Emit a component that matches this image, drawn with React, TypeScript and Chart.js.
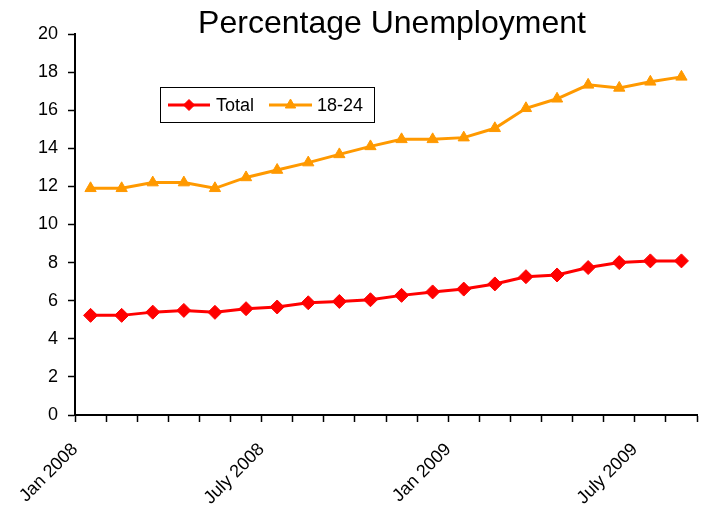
import React, { useEffect, useRef } from "react";
import { Chart, registerables } from "chart.js";

Chart.register(...registerables);

const months: string[] = [
  "Jan 2008", "Feb 2008", "Mar 2008", "Apr 2008", "May 2008", "Jun 2008",
  "July 2008", "Aug 2008", "Sep 2008", "Oct 2008", "Nov 2008", "Dec 2008",
  "Jan 2009", "Feb 2009", "Mar 2009", "Apr 2009", "May 2009", "Jun 2009",
  "July 2009", "Aug 2009",
];
const totalValues: number[] = [
  5.23, 5.23, 5.4, 5.49, 5.39, 5.58, 5.67, 5.89, 5.96, 6.05,
  6.28, 6.46, 6.61, 6.88, 7.26, 7.35, 7.74, 8.0, 8.09, 8.09,
];
const youthValues: number[] = [
  11.9, 11.9, 12.2, 12.2, 11.9, 12.47, 12.86, 13.25, 13.68, 14.1,
  14.47, 14.47, 14.56, 15.05, 16.1, 16.6, 17.33, 17.17, 17.49, 17.75,
];
const labelledTicks: number[] = [0, 6, 12, 18];
const yTicks: number[] = [0, 2, 4, 6, 8, 10, 12, 14, 16, 18, 20];

const FONT = "'Liberation Sans', Arial, sans-serif";
const RED = "#FF0000";
const ORANGE = "#FF9900";

const overlayPlugin = {
  id: "overlay",
  afterDraw(chart: any) {
    const ctx = chart.ctx as CanvasRenderingContext2D;
    ctx.save();
    // Title
    ctx.fillStyle = "#000";
    ctx.font = `32px ${FONT}`;
    ctx.textAlign = "center";
    ctx.textBaseline = "alphabetic";
    ctx.fillText("Percentage Unemployment", 392, 33);
    // Legend box
    const bx = 160.5, by = 87.5, bw = 214, bh = 35;
    ctx.strokeStyle = "#000";
    ctx.lineWidth = 1;
    ctx.strokeRect(bx, by, bw, bh);
    const cy = by + bh / 2;
    const items = [
      { label: "Total", color: RED, style: "rectRot", x0: 168, x1: 210, tx: 216, r: 5.5 },
      { label: "18-24", color: ORANGE, style: "triangle", x0: 269, x1: 312, tx: 317, r: 6 },
    ];
    ctx.font = `18px ${FONT}`;
    ctx.textAlign = "left";
    ctx.textBaseline = "middle";
    for (const it of items) {
      ctx.strokeStyle = it.color;
      ctx.lineWidth = 3;
      ctx.beginPath();
      ctx.moveTo(it.x0, cy);
      ctx.lineTo(it.x1, cy);
      ctx.stroke();
      ctx.fillStyle = it.color;
      ctx.strokeStyle = it.color;
      ctx.lineWidth = 1;
      ctx.beginPath();
      const mx = (it.x0 + it.x1) / 2;
      if (it.style === "rectRot") {
        ctx.moveTo(mx, cy - it.r);
        ctx.lineTo(mx + it.r, cy);
        ctx.lineTo(mx, cy + it.r);
        ctx.lineTo(mx - it.r, cy);
      } else {
        ctx.moveTo(mx, cy - it.r);
        ctx.lineTo(mx + it.r * 0.866, cy + it.r * 0.5);
        ctx.lineTo(mx - it.r * 0.866, cy + it.r * 0.5);
      }
      ctx.closePath();
      ctx.fill();
      ctx.stroke();
      ctx.fillStyle = "#000";
      ctx.fillText(it.label, it.tx, cy + 1);
    }
    ctx.restore();
  },
};

export default function App() {
  const canvasRef = useRef<HTMLCanvasElement | null>(null);

  useEffect(() => {
    document.body.style.margin = "0";
    const canvas = canvasRef.current;
    if (!canvas) return;
    const chart = new Chart(canvas, {
      type: "line",
      data: {
        datasets: [
          {
            label: "Total",
            data: totalValues.map((v, i) => ({ x: i + 0.5, y: v })),
            borderColor: RED,
            backgroundColor: RED,
            borderWidth: 3,
            pointStyle: "rectRot",
            pointRadius: 7,
            pointBorderWidth: 1,
            tension: 0,
          },
          {
            label: "18-24",
            data: youthValues.map((v, i) => ({ x: i + 0.5, y: v })),
            borderColor: ORANGE,
            backgroundColor: ORANGE,
            borderWidth: 3,
            pointStyle: "triangle",
            pointRadius: 6.5,
            pointBorderWidth: 1,
            tension: 0,
          },
        ],
      },
      options: {
        responsive: false,
        animation: false,
        events: [],
        layout: { padding: { top: 34, right: 6, left: 0, bottom: 0 } },
        plugins: {
          legend: { display: false },
          title: { display: false },
          tooltip: { enabled: false },
        },
        scales: {
          x: {
            type: "linear",
            min: 0,
            max: months.length,
            afterBuildTicks: (scale: any) => {
              scale.ticks = months.map((_, i) => ({ value: i })).concat([{ value: months.length }]);
            },
            afterFit: (scale: any) => {
              scale.height = 93;
              scale.paddingLeft = 0;
              scale.paddingRight = 0;
            },
            grid: {
              drawOnChartArea: false,
              drawTicks: true,
              tickLength: 7,
              tickWidth: 1.5,
              tickColor: "#000",
            },
            border: { display: true, color: "#000", width: 2 },
            ticks: {
              autoSkip: false,
              minRotation: 45,
              maxRotation: 45,
              padding: 17,
              color: "#000",
              font: { family: FONT, size: 18 },
              callback: (value: any) => {
                const i = Number(value);
                return labelledTicks.includes(i) ? months[i] : "";
              },
            },
          },
          y: {
            min: 0,
            max: 20,
            afterBuildTicks: (scale: any) => {
              scale.ticks = yTicks.map((v) => ({ value: v }));
            },
            afterFit: (scale: any) => {
              scale.width = 75;
            },
            grid: {
              drawOnChartArea: false,
              drawTicks: true,
              tickLength: 7,
              tickWidth: 1.5,
              tickColor: "#000",
            },
            border: { display: true, color: "#000", width: 2 },
            ticks: {
              padding: 10,
              color: "#000",
              font: { family: FONT, size: 18 },
            },
          },
        },
      },
      plugins: [overlayPlugin],
    });
    return () => chart.destroy();
  }, []);

  return (
    <div style={{ position: "relative", width: 705, height: 508, background: "#fff" }}>
      <canvas ref={canvasRef} width={705} height={508} />
    </div>
  );
}
